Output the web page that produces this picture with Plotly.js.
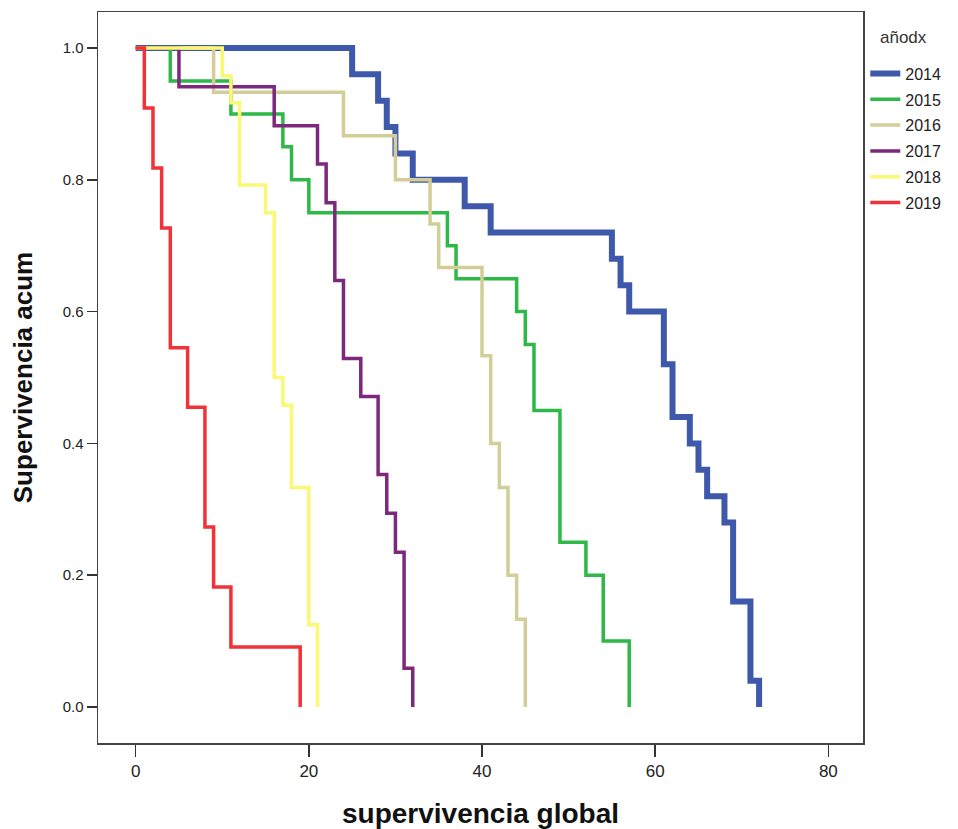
<!DOCTYPE html>
<html>
<head>
<meta charset="utf-8">
<script src="https://cdn.plot.ly/plotly-3.0.1.min.js"></script>
<style>html,body{margin:0;padding:0;background:#fff;}#chart{width:958px;height:829px;}</style>
</head>
<body>
<div id="chart"></div>
<script>
// Kaplan-Meier step data (time in months, cumulative survival)
const years = ["2014", "2015", "2016", "2017", "2018", "2019"];

const t2014 = [0, 25, 28, 29, 30, 32, 38, 41, 55, 56, 57, 61, 62, 64, 65, 66, 68, 69, 71, 72];
const s2014 = [1.0, 0.96, 0.92, 0.88, 0.84, 0.80, 0.76, 0.72, 0.68, 0.64, 0.60, 0.52, 0.44, 0.40, 0.36, 0.32, 0.28, 0.16, 0.04, 0.0];

const t2015 = [0, 4, 11, 17, 18, 20, 36, 37, 44, 45, 46, 49, 52, 54, 57];
const s2015 = [1.0, 0.95, 0.90, 0.85, 0.80, 0.75, 0.70, 0.65, 0.60, 0.55, 0.45, 0.25, 0.20, 0.10, 0.0];

const t2016 = [0, 9, 24, 30, 34, 35, 40, 41, 42, 43, 44, 45];
const s2016 = [1.0, 0.933, 0.867, 0.80, 0.733, 0.667, 0.533, 0.40, 0.333, 0.20, 0.133, 0.0];

const t2017 = [0, 5, 16, 21, 22, 23, 24, 26, 28, 29, 30, 31, 32];
const s2017 = [1.0, 0.941, 0.882, 0.824, 0.765, 0.647, 0.529, 0.471, 0.353, 0.294, 0.235, 0.059, 0.0];

const t2018 = [0, 10, 11, 12, 15, 16, 17, 18, 20, 21];
const s2018 = [1.0, 0.958, 0.917, 0.792, 0.75, 0.50, 0.458, 0.333, 0.125, 0.0];

const t2019 = [0, 1, 2, 3, 4, 6, 8, 9, 11, 19];
const s2019 = [1.0, 0.909, 0.818, 0.727, 0.545, 0.455, 0.273, 0.182, 0.091, 0.0];

const xTicks = [0, 20, 40, 60, 80];
const yTicks = [0.0, 0.2, 0.4, 0.6, 0.8, 1.0];
const yTickText = ["0.0", "0.2", "0.4", "0.6", "0.8", "1.0"];

const times = [t2014, t2015, t2016, t2017, t2018, t2019];
const survs = [s2014, s2015, s2016, s2017, s2018, s2019];
const colors = ["#3E58AC", "#2EB848", "#D3CE97", "#7C287D", "#FBF873", "#EF3338"];
const widths = [6, 3.5, 3.5, 3.5, 3.5, 3.5];

const traces = years.map((yr, i) => ({
  type: "scatter",
  mode: "lines",
  name: yr,
  legendgroup: yr,
  x: times[i],
  y: survs[i],
  line: {shape: "hv", color: colors[i], width: widths[i]},
  hoverinfo: "x+y+name"
}));

const narrow = "Liberation Sans Narrow, Arial Narrow, sans-serif";
const regular = "Liberation Sans, Arial, sans-serif";

const layout = {
  width: 958,
  height: 829,
  paper_bgcolor: "#ffffff",
  plot_bgcolor: "#ffffff",
  margin: {l: 98, r: 93, t: 12, b: 86, pad: 0},
  font: {family: regular, color: "#222"},
  xaxis: {
    range: [-4.35, 84.0],
    tickvals: xTicks,
    ticktext: xTicks.map(String),
    ticks: "outside",
    ticklen: 12,
    tickwidth: 1.5,
    tickcolor: "#333",
    showgrid: false,
    zeroline: false,
    showline: true,
    mirror: true,
    linecolor: "#444",
    linewidth: 1.5,
    tickfont: {family: narrow, size: 17, color: "#222"},
    title: {text: "supervivencia global", standoff: 24,
            font: {family: narrow, size: 28, color: "#111", weight: "bold"}}
  },
  yaxis: {
    range: [-0.0546, 1.0546],
    tickvals: yTicks,
    ticktext: yTickText,
    ticks: "outside",
    ticklen: 10,
    tickwidth: 1.5,
    tickcolor: "#333",
    showgrid: false,
    zeroline: false,
    showline: true,
    mirror: true,
    linecolor: "#444",
    linewidth: 1.5,
    tickfont: {family: regular, size: 15, color: "#222"},
    title: {text: "Supervivencia acum", standoff: 22,
            font: {family: narrow, size: 26, color: "#111", weight: "bold"}}
  },
  showlegend: true,
  legend: {
    x: 1.003, xanchor: "left",
    y: 0.939, yanchor: "top",
    bgcolor: "rgba(0,0,0,0)",
    borderwidth: 0,
    font: {family: regular, size: 16, color: "#222"},
    tracegroupgap: 2,
    itemwidth: 30
  },
  annotations: [{
    text: "añodx",
    xref: "paper", yref: "paper",
    x: 1.0196, y: 0.9645,
    xanchor: "left", yanchor: "middle",
    showarrow: false,
    font: {family: regular, size: 17, color: "#333"}
  }]
};

Plotly.newPlot("chart", traces, layout, {displayModeBar: false, staticPlot: true});
</script>
</body>
</html>
